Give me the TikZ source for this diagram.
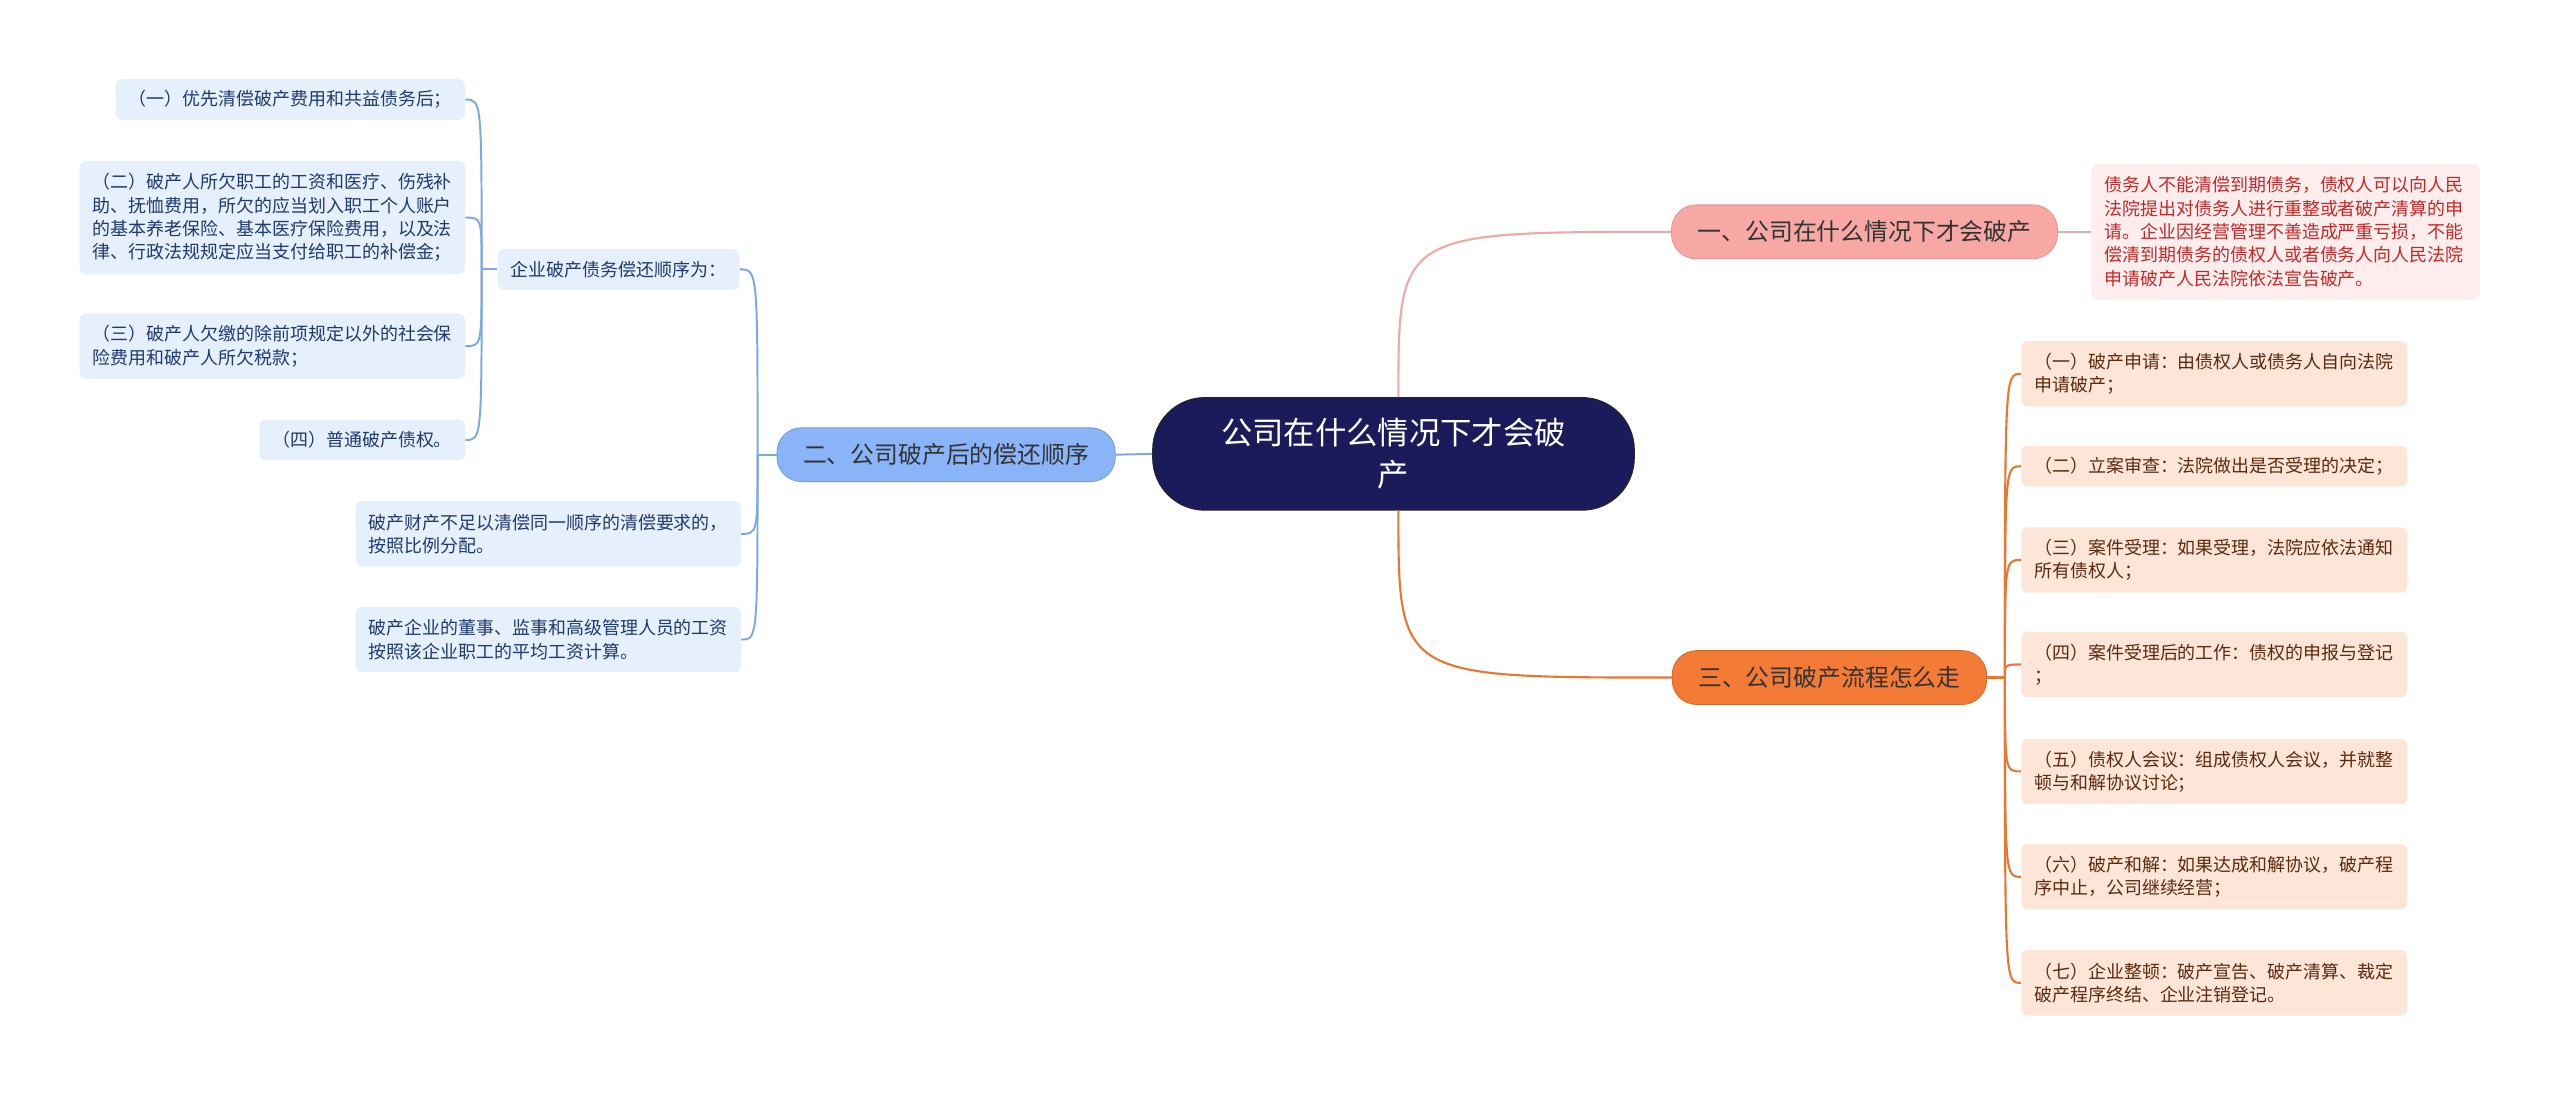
\documentclass[tikz,border=0pt]{standalone}
\usepackage{fontspec}
\newfontfamily\cjk{Noto Sans CJK SC}
\usetikzlibrary{positioning,calc}
\usepackage{xcolor}
\definecolor{navy}{HTML}{1B1A5B}
\definecolor{ink}{HTML}{333333}
\definecolor{pinkfill}{HTML}{F7A8A5}
\definecolor{pinkline}{HTML}{F0A8A5}
\definecolor{pinkleaf}{HTML}{FDEDEC}
\definecolor{pinktext}{HTML}{C62828}
\definecolor{bluefill}{HTML}{8AB4F8}
\definecolor{blueline}{HTML}{7FA7E3}
\definecolor{blueleaf}{HTML}{E6EFFC}
\definecolor{bluetext}{HTML}{1E3A6E}
\definecolor{orangefill}{HTML}{F47B36}
\definecolor{orangeline}{HTML}{E8772F}
\definecolor{orangeleaf}{HTML}{FDE5D8}
\definecolor{orangetext}{HTML}{5C2A0E}
\tikzset{
  root/.style={draw=black!85, line width=0.6pt, fill=navy, text=white, rounded corners=32pt, minimum width=295pt, minimum height=69pt, align=center, font=\cjk\fontsize{19.2}{25.5}\selectfont},
  topic/.style={rounded corners=15pt, minimum height=33pt, inner xsep=16pt, line width=0.5pt, text=ink, font=\cjk\fontsize{14.6}{18}\selectfont},
  pinktopic/.style={topic, draw=pinkfill!90!black, fill=pinkfill},
  bluetopic/.style={topic, draw=bluefill!85!black, fill=bluefill},
  orangetopic/.style={topic, draw=orangefill!85!black, fill=orangefill},
  leaf/.style={rounded corners=4pt, inner xsep=8pt, inner ysep=4pt, align=left, font=\cjk\fontsize{11}{14.3}\selectfont},
  oneline/.style={minimum height=25pt},
  twoline/.style={minimum height=40pt},
  blueleafbox/.style={leaf, fill=blueleaf, text=bluetext},
  orangeleafbox/.style={leaf, fill=orangeleaf, text=orangetext, text width=220.5pt, minimum width=236.5pt},
  pinkleafbox/.style={leaf, fill=pinkleaf, text=pinktext, text width=222pt, minimum width=238pt, minimum height=83.3pt},
  plink/.style={draw=pinkline, line width=1.3pt},
  blink/.style={draw=blueline, line width=1.2pt},
  olink/.style={draw=orangeline, line width=1.3pt}
}

\begin{document}
\begin{tikzpicture}[x=1pt, y=-1pt]
  \useasboundingbox (0,0) rectangle (1568,671);
  \node[root] (c) at (853.5,278) {公司在什么情况下才会破\\产};

  % 一
  \node[pinktopic] (b1) at (1142,142) {一、公司在什么情况下才会破产};
  \node[pinkleafbox] (d1) at (1400,142) {债务人不能清偿到期债务，债权人可以向人民\\法院提出对债务人进行重整或者破产清算的申\\请。企业因经营管理不善造成严重亏损，不能\\偿清到期债务的债权人或者债务人向人民法院\\申请破产人民法院依法宣告破产。};

  % 二
  \node[bluetopic] (b2) at (579.5,278.5) {二、公司破产后的偿还顺序};
  \node[blueleafbox, oneline, anchor=east] (m) at (453,165) {企业破产债务偿还顺序为：};
  \node[blueleafbox, oneline, anchor=east] (l1) at (285,61) {（一）优先清偿破产费用和共益债务后；};
  \node[blueleafbox, minimum height=69.4pt, anchor=east] (l2) at (285,133.3) {（二）破产人所欠职工的工资和医疗、伤残补\\助、抚恤费用，所欠的应当划入职工个人账户\\的基本养老保险、基本医疗保险费用，以及法\\律、行政法规规定应当支付给职工的补偿金；};
  \node[blueleafbox, twoline, anchor=east] (l3) at (285,212) {（三）破产人欠缴的除前项规定以外的社会保\\险费用和破产人所欠税款；};
  \node[blueleafbox, oneline, anchor=east] (l4) at (285,269.5) {（四）普通破产债权。};
  \node[blueleafbox, twoline, anchor=east] (p1) at (454,327) {破产财产不足以清偿同一顺序的清偿要求的，\\按照比例分配。};
  \node[blueleafbox, twoline, anchor=east] (p2) at (454,391.7) {破产企业的董事、监事和高级管理人员的工资\\按照该企业职工的平均工资计算。};

  % 三
  \node[orangetopic] (b3) at (1120.5,415) {三、公司破产流程怎么走};
  \node[orangeleafbox, twoline] (r1) at (1356.25,229) {（一）破产申请：由债权人或债务人自向法院\\申请破产；};
  \node[orangeleafbox, oneline] (r2) at (1356.25,285.6) {（二）立案审查：法院做出是否受理的决定；};
  \node[orangeleafbox, twoline] (r3) at (1356.25,343) {（三）案件受理：如果受理，法院应依法通知\\所有债权人；};
  \node[orangeleafbox, twoline] (r4) at (1356.25,407) {（四）案件受理后的工作：债权的申报与登记\\；};
  \node[orangeleafbox, twoline] (r5) at (1356.25,472.5) {（五）债权人会议：组成债权人会议，并就整\\顿与和解协议讨论；};
  \node[orangeleafbox, twoline] (r6) at (1356.25,537) {（六）破产和解：如果达成和解协议，破产程\\序中止，公司继续经营；};
  \node[orangeleafbox, twoline] (r7) at (1356.25,602) {（七）企业整顿：破产宣告、破产清算、裁定\\破产程序终结、企业注销登记。};

  \coordinate (cn) at ([xshift=3pt]c.north);
  \coordinate (cs) at ([xshift=3pt]c.south);
  \coordinate (t2) at (464,278.5);
  \coordinate (tm) at (295,165);
  \coordinate (t3) at (1228,415);

  \draw[plink] (cn) .. controls (cn |- b1.west) .. (b1.west);
  \draw[plink] (b1.east) -- (d1.west);
  \draw[olink] (cs) .. controls (cs |- b3.west) .. (b3.west);
  \draw[blink] (c.west) -- (b2.east);

  \draw[blink] (b2.west) -- (t2);
  \foreach \n in {m,p1,p2}
    \draw[blink] (t2) .. controls (t2 |- \n.east) .. (\n.east);
  \draw[blink] (m.west) -- (tm);
  \foreach \n in {l1,l2,l3,l4}
    \draw[blink] (tm) .. controls (tm |- \n.east) .. (\n.east);

  \draw[olink] (b3.east) -- (t3);
  \foreach \n in {r1,r2,r3,r4,r5,r6,r7}
    \draw[olink] (t3) .. controls (t3 |- \n.west) .. (\n.west);
\end{tikzpicture}
\end{document}
